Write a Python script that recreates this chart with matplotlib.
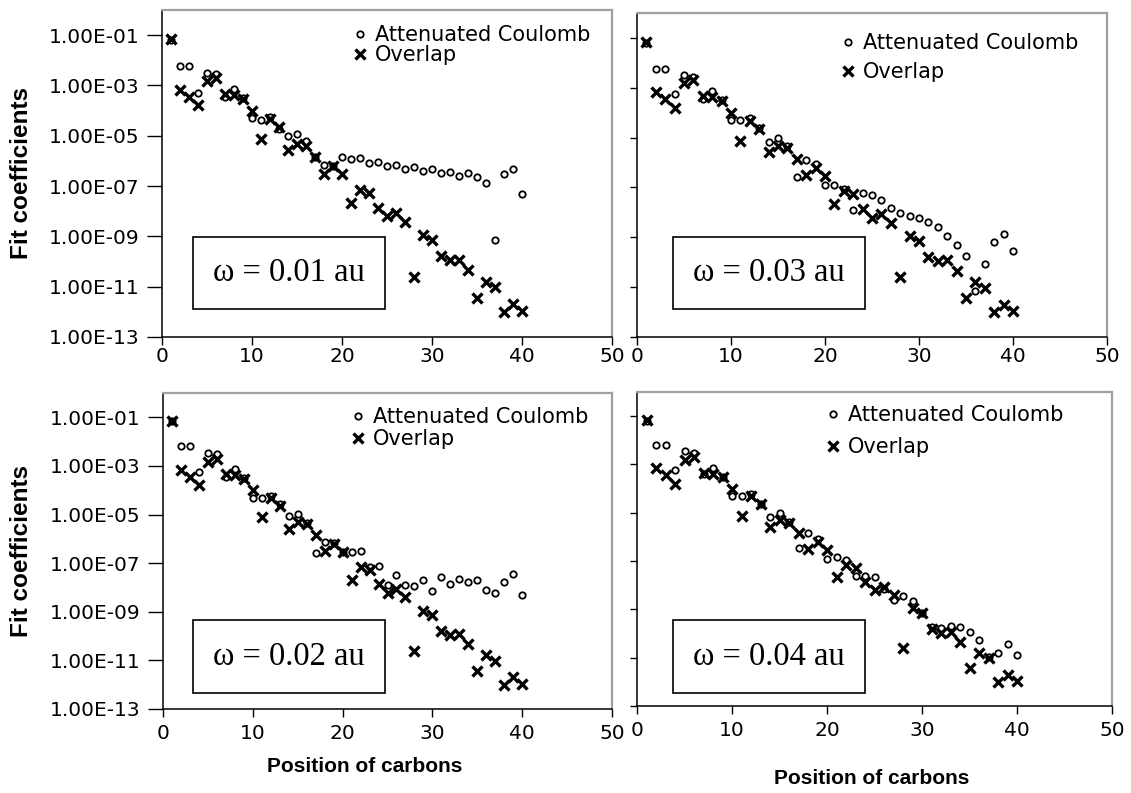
import numpy as np
import matplotlib.pyplot as plt
from matplotlib.patches import Rectangle

W, H = 1131, 793

# carbon positions along the chain
positions = np.arange(1, 41)

# "Overlap" fit coefficients (same in every panel)
overlap = [6.8e-2, 6.9e-4, 3.5e-4, 1.6e-4, 1.5e-3, 2.0e-3, 4.5e-4, 4.1e-4, 2.9e-4, 1.0e-4,
           7.6e-6, 4.8e-5, 2.3e-5, 2.6e-6, 4.8e-6, 3.9e-6, 1.4e-6, 3.1e-7, 6.2e-7, 2.9e-7,
           2.1e-8, 7.1e-8, 5.4e-8, 1.4e-8, 6.2e-9, 8.3e-9, 3.9e-9, 2.5e-11, 1.1e-9, 7.2e-10,
           1.6e-10, 1.1e-10, 1.2e-10, 4.6e-11, 3.7e-12, 1.6e-11, 9.3e-12, 1.0e-12, 2.0e-12, 1.1e-12]

# "Attenuated Coulomb" fit coefficients for each omega
coulomb_001 = [6.3e-2, 5.9e-3, 5.9e-3, 5.2e-4, 3.2e-3, 2.8e-3, 3.4e-4, 7.4e-4, 3.2e-4, 5.0e-5,
               4.1e-5, 5.6e-5, 1.8e-5, 9.5e-6, 1.2e-5, 6.2e-6, 1.4e-6, 6.9e-7, 6.2e-7, 1.4e-6,
               1.2e-6, 1.3e-6, 8.1e-7, 8.7e-7, 6.2e-7, 7.1e-7, 4.9e-7, 5.6e-7, 4.0e-7, 4.6e-7,
               3.2e-7, 3.5e-7, 2.6e-7, 3.2e-7, 2.3e-7, 1.3e-7, 7.2e-10, 3.1e-7, 4.9e-7, 4.9e-8]
coulomb_003 = [6.5e-2, 5.9e-3, 5.9e-3, 5.4e-4, 3.4e-3, 2.8e-3, 3.5e-4, 7.6e-4, 3.2e-4, 5.1e-5,
               5.1e-5, 5.9e-5, 2.5e-5, 6.9e-6, 1.0e-5, 4.7e-6, 2.6e-7, 1.3e-6, 8.9e-7, 1.2e-7,
               1.2e-7, 8.5e-8, 1.3e-8, 5.9e-8, 5.1e-8, 3.0e-8, 1.5e-8, 9.3e-9, 6.9e-9, 5.9e-9,
               4.0e-9, 2.6e-9, 1.1e-9, 4.8e-10, 1.7e-10, 6.8e-12, 8.3e-11, 6.5e-10, 1.3e-9, 2.8e-10]
coulomb_002 = [6.8e-2, 6.3e-3, 6.3e-3, 5.5e-4, 3.5e-3, 3.0e-3, 3.6e-4, 7.8e-4, 3.3e-4, 4.9e-5,
               4.9e-5, 5.8e-5, 2.6e-5, 8.5e-6, 1.1e-5, 4.6e-6, 2.6e-7, 7.2e-7, 6.8e-7, 2.8e-7,
               3.0e-7, 3.2e-7, 7.2e-8, 7.8e-8, 1.3e-8, 3.3e-8, 1.3e-8, 1.1e-8, 2.1e-8, 7.1e-9,
               2.6e-8, 1.4e-8, 2.2e-8, 1.6e-8, 2.0e-8, 7.8e-9, 6.0e-9, 1.7e-8, 3.5e-8, 5.1e-9]
coulomb_004 = [6.6e-2, 6.2e-3, 6.2e-3, 5.8e-4, 3.5e-3, 3.0e-3, 3.9e-4, 7.4e-4, 3.0e-4, 4.9e-5,
               4.9e-5, 5.9e-5, 2.4e-5, 6.8e-6, 1.0e-5, 4.3e-6, 3.4e-7, 1.4e-6, 8.1e-7, 1.2e-7,
               1.5e-7, 1.1e-7, 2.4e-8, 2.3e-8, 2.1e-8, 6.8e-9, 2.5e-9, 3.6e-9, 2.3e-9, 7.4e-10,
               1.9e-10, 1.7e-10, 2.1e-10, 1.9e-10, 1.2e-10, 5.2e-11, 1.1e-11, 1.5e-11, 3.7e-11, 1.3e-11]

omega_labels = ["ω = 0.01 au", "ω = 0.03 au", "ω = 0.02 au", "ω = 0.04 au"]
coulomb_sets = [coulomb_001, coulomb_003, coulomb_002, coulomb_004]

ytick_vals = [1e-1, 1e-3, 1e-5, 1e-7, 1e-9, 1e-11, 1e-13]
ytick_labels = ["1.00E-01", "1.00E-03", "1.00E-05", "1.00E-07", "1.00E-09", "1.00E-11", "1.00E-13"]
xtick_vals = [0, 10, 20, 30, 40, 50]

# layout in pixels: axes (l, t, r, b), legend marker (x, y), omega box (l, t, r, b)
layout = [
    dict(ax=(162, 10, 612, 337), leg=(360, 37), lsp=0.0, box=(193, 237, 385, 309), left=True, bottom=False),
    dict(ax=(637, 13, 1107, 337), leg=(848, 45), lsp=0.45, box=(673, 237, 865, 309), left=False, bottom=False),
    dict(ax=(163, 393, 612, 709), leg=(358, 419), lsp=0.1, box=(193, 620, 385, 693), left=True, bottom=True),
    dict(ax=(637, 392, 1112, 706), leg=(833, 417), lsp=0.6, box=(673, 620, 865, 693), left=False, bottom=True),
]

fig = plt.figure(figsize=(W / 100, H / 100), dpi=100)

for lay, coul, om in zip(layout, coulomb_sets, omega_labels):
    l, t, r, b = lay["ax"]
    ax = fig.add_axes([l / W, 1 - b / H, (r - l) / W, (b - t) / H])
    aw, ah = r - l, b - t

    def to_ax(px, py):
        return (px - l) / aw, (b - py) / ah

    ax.plot(positions, coul, linestyle="none", marker="o", ms=4.6, mfc="none",
            mec="black", mew=1.3, label="Attenuated Coulomb")
    ax.plot(positions, overlap, linestyle="none", marker="x", ms=7, mec="black",
            mew=2.4, label="Overlap")

    ax.set_yscale("log")
    ax.set_ylim(1e-13, 1)
    ax.set_xlim(0, 50)
    ax.set_xticks(xtick_vals)
    ax.minorticks_off()
    ax.set_yticks(ytick_vals)
    if lay["left"]:
        ax.set_yticklabels(ytick_labels)
        ax.tick_params(axis="y", length=11, width=1, pad=5, labelsize=14.5)
    else:
        ax.set_yticklabels([])
        ax.tick_params(axis="y", length=5, width=1)
    ax.tick_params(axis="x", length=6, width=1, labelsize=14.5,
                   pad=5 if lay["bottom"] else 1)

    for s in ["top", "right"]:
        ax.spines[s].set_color("#a0a0a0")
        ax.spines[s].set_linewidth(1.6)
    for s in ["left", "bottom"]:
        ax.spines[s].set_color("black")
        ax.spines[s].set_linewidth(1.1)

    # legend
    lx, ly = to_ax(lay["leg"][0] - 6, lay["leg"][1] - 12)
    ax.legend(loc="upper left", bbox_to_anchor=(lx, ly), frameon=False, fontsize=15,
              handlelength=0.55, handletextpad=0.45, borderpad=0, borderaxespad=0,
              labelspacing=lay["lsp"])

    # omega box
    bl, bt, br, bb = lay["box"]
    x0, y0 = to_ax(bl, bb)
    x1, y1 = to_ax(br, bt)
    ax.add_patch(Rectangle((x0, y0), x1 - x0, y1 - y0, transform=ax.transAxes,
                           fill=False, edgecolor="black", linewidth=1.2, zorder=5))
    ax.text((x0 + x1) / 2, (y0 + y1) / 2, om, transform=ax.transAxes, ha="center",
            va="center", fontsize=23.5, family="Liberation Serif", zorder=6)

# axis titles
lab_font = dict(family="Liberation Sans", fontweight="bold")
fig.text(22 / W, 1 - 173 / H, "Fit coefficients", rotation=90, ha="center", va="center",
         fontsize=17.5, **lab_font)
fig.text(22 / W, 1 - 551 / H, "Fit coefficients", rotation=90, ha="center", va="center",
         fontsize=17.5, **lab_font)
fig.text(365 / W, 1 - 767 / H, "Position of carbons", ha="center", va="center",
         fontsize=15, **lab_font)
fig.text(872 / W, 1 - 778 / H, "Position of carbons", ha="center", va="center",
         fontsize=15, **lab_font)

fig.savefig("out.png", dpi=100)
